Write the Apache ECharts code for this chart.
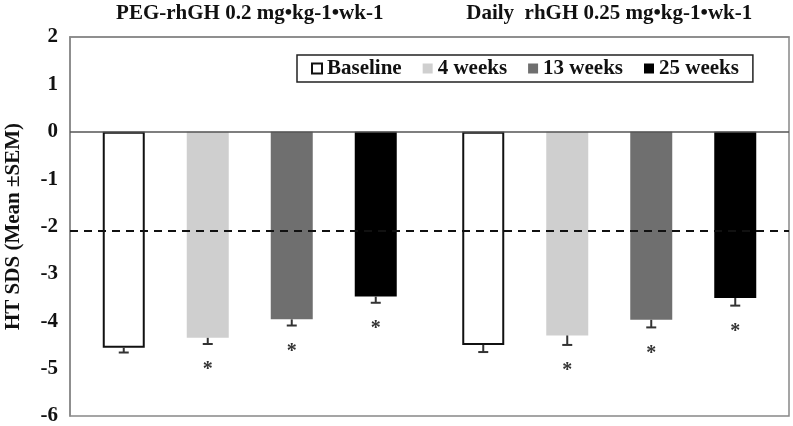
<!DOCTYPE html>
<html>
<head>
<meta charset="utf-8">
<script src="https://cdn.jsdelivr.net/npm/echarts@6/dist/echarts.min.js"></script>
<style>html,body{margin:0;padding:0;background:#fff}#c{width:793px;height:426px}</style>
</head>
<body>
<div id="c"></div>
<script>
// ---- data ----
var groups = ['PEG-rhGH 0.2 mg\u2022kg-1\u2022wk-1', 'Daily  rhGH 0.25 mg\u2022kg-1\u2022wk-1'];
var timepoints = ['Baseline', '4 weeks', '13 weeks', '25 weeks'];
var baselineMean = [-4.56, -4.50];
var week4Mean = [-4.35, -4.30];
var week13Mean = [-3.96, -3.97];
var week25Mean = [-3.48, -3.51];
var baselineSem = [0.10, 0.15];
var week4Sem = [0.13, 0.20];
var week13Sem = [0.13, 0.16];
var week25Sem = [0.13, 0.16];
var significant = [false, true, true, true];
var zeroRef = 0;
var dashedRef = -2.08;
var yTicks = { min: -6, max: 2, interval: 1 };

// ---- styles ----
var FONT = '"Liberation Serif", "Times New Roman", serif';
var BAR_W = 42;
var colors = ['#ffffff', '#cfcfcf', '#6f6f6f', '#000000'];
var means = [baselineMean, week4Mean, week13Mean, week25Mean];
var sems = [baselineSem, week4Sem, week13Sem, week25Sem];

var series = [];
timepoints.forEach(function (name, k) {
  var s = {
    name: name,
    type: 'bar',
    data: means[k],
    barWidth: BAR_W,
    barGap: '100%',
    itemStyle: k === 0
      ? { color: '#ffffff', borderColor: '#111', borderWidth: 2 }
      : { color: colors[k] },
    z: 2
  };
  if (k === 0) {
    s.markLine = {
      silent: true,
      symbol: 'none',
      label: { show: false },
      z: 5,
      data: [
        { yAxis: zeroRef, lineStyle: { color: '#555', width: 1.5, type: 'solid' } },
        { yAxis: dashedRef, lineStyle: { color: '#111', width: 2, type: [8, 6] } }
      ]
    };
  }
  series.push(s);
});

timepoints.forEach(function (name, k) {
  var d = means[k].map(function (m, i) { return [i, m, sems[k][i]]; });
  series.push({
    type: 'custom',
    name: name + ' err',
    data: d,
    z: 6,
    silent: true,
    legendHoverLink: false,
    renderItem: function (params, api) {
      var c = api.value(0), m = api.value(1), e = api.value(2);
      var top = api.coord([c, m]);
      var low = api.coord([c, m - e]);
      var x = top[0] + (k - 1.5) * 2 * BAR_W;
      var children = [
        { type: 'line', shape: { x1: x, y1: top[1], x2: x, y2: low[1] }, style: { stroke: '#333', lineWidth: 2 } },
        { type: 'line', shape: { x1: x - 5, y1: low[1], x2: x + 5, y2: low[1] }, style: { stroke: '#333', lineWidth: 2 } }
      ];
      if (significant[k]) {
        children.push({
          type: 'text',
          style: { text: '*', x: x, y: low[1] + 26, align: 'center', verticalAlign: 'middle',
                   font: 'bold 20px ' + FONT, fill: '#333' }
        });
      }
      return { type: 'group', children: children };
    }
  });
});

var chart = echarts.init(document.getElementById('c'), null, { renderer: 'canvas' });
chart.setOption({
  animation: false,
  backgroundColor: '#fff',
  grid: { left: 70, right: 4, top: 37, bottom: 10, show: true, borderColor: '#888', borderWidth: 1.5,
          containLabel: false, outerBoundsMode: 'none' },
  legend: {
    data: timepoints,
    left: 297,
    top: 55,
    padding: [3, 14, 3, 14],
    itemWidth: 10,
    itemHeight: 10,
    itemGap: 21,
    borderColor: '#222',
    borderWidth: 1.5,
    icon: 'rect',
    textStyle: { fontFamily: FONT, fontWeight: 'bold', fontSize: 21, color: '#111' }
  },
  xAxis: {
    type: 'category',
    data: groups,
    position: 'top',
    axisLine: { show: true, onZero: false, lineStyle: { color: '#888', width: 1.5 } },
    axisTick: { show: false },
    axisLabel: { interval: 0, hideOverlap: false, margin: 13, fontFamily: FONT, fontWeight: 'bold', fontSize: 21, color: '#111' },
    splitLine: { show: false }
  },
  yAxis: {
    type: 'value',
    min: yTicks.min,
    max: yTicks.max,
    interval: yTicks.interval,
    name: 'HT SDS (Mean \u00b1SEM)',
    nameLocation: 'middle',
    nameGap: 46,
    nameTextStyle: { fontFamily: FONT, fontWeight: 'bold', fontSize: 21, color: '#111' },
    axisLine: { show: true, lineStyle: { color: '#888', width: 1.5 } },
    axisTick: { show: false },
    splitLine: { show: false },
    axisLabel: { margin: 12, fontFamily: FONT, fontWeight: 'bold', fontSize: 21, color: '#111' }
  },
  series: series
});
</script>
</body>
</html>
